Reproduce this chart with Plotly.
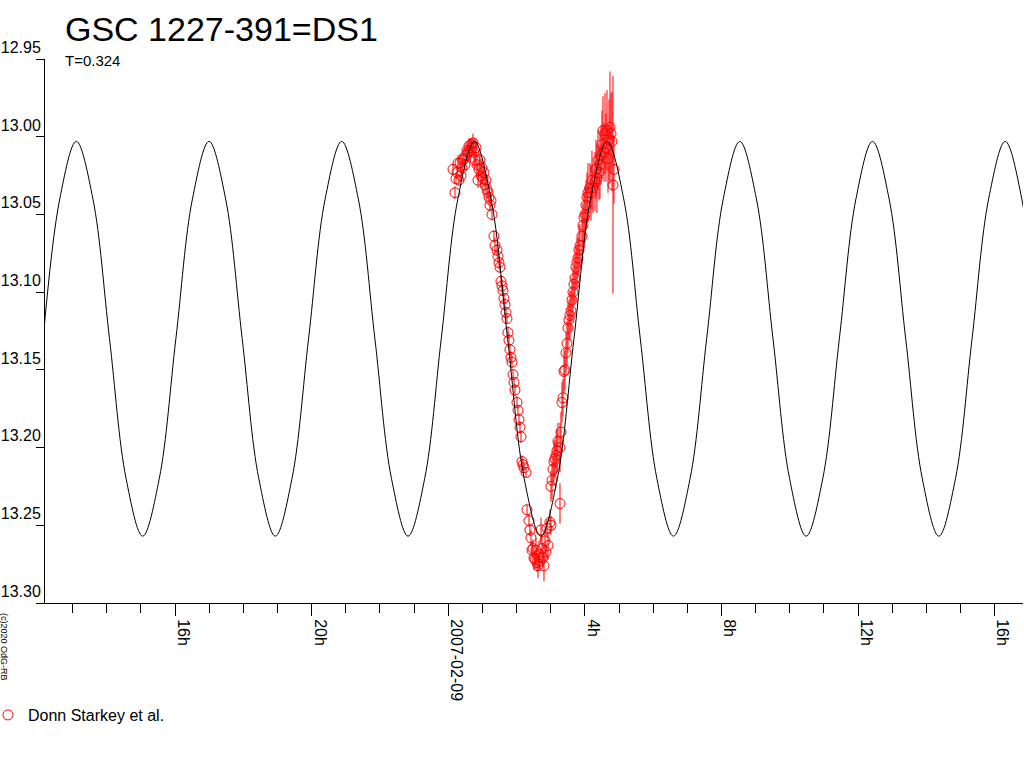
import pandas as pd
import plotly.graph_objects as go

# ---------------- data (hours from 2007-02-09 00:00 UT, magnitudes) ----------------
BASE = pd.Timestamp("2007-02-09 00:00:00")

curve_hours = [
    -11.864, -11.378, -10.893, -10.407, -9.921, -9.435, -8.950, -8.464,
    -7.978, -7.492, -7.007, -6.521, -6.035, -5.549, -5.064, -4.578,
    -4.092, -3.606, -3.121, -2.635, -2.149, -1.663, -1.178, -0.692,
    -0.206, 0.280, 0.765, 1.251, 1.737, 2.223, 2.708, 3.194,
    3.680, 4.166, 4.651, 5.137, 5.623, 6.109, 6.594, 7.080,
    7.566, 8.052, 8.537, 9.023, 9.509, 9.995, 10.480, 10.966,
    11.452, 11.938, 12.423, 12.909, 13.395, 13.881, 14.366, 14.852,
    15.338, 15.824, 16.309, 16.795, 17.281,
]
curve_mag = [
    13.130, 13.040, 13.003, 13.040, 13.130, 13.220, 13.257, 13.220,
    13.130, 13.040, 13.003, 13.040, 13.130, 13.220, 13.257, 13.220,
    13.130, 13.040, 13.003, 13.040, 13.130, 13.220, 13.257, 13.220,
    13.130, 13.040, 13.003, 13.040, 13.130, 13.220, 13.257, 13.220,
    13.130, 13.040, 13.003, 13.040, 13.130, 13.220, 13.257, 13.220,
    13.130, 13.040, 13.003, 13.040, 13.130, 13.220, 13.257, 13.220,
    13.130, 13.040, 13.003, 13.040, 13.130, 13.220, 13.257, 13.220,
    13.130, 13.040, 13.003, 13.040, 13.130,
]

obs_hours = [
    0.138, 0.196, 0.225, 0.255, 0.284, 0.313, 0.343, 0.372, 0.401, 0.430,
    0.460, 0.489, 0.518, 0.548, 0.577, 0.606, 0.635, 0.665, 0.694, 0.723,
    0.753, 0.782, 0.811, 0.840, 0.870, 0.899, 0.928, 0.958, 0.987, 1.016,
    1.045, 1.075, 1.104, 1.133, 1.163, 1.192, 1.221, 1.250, 1.280, 1.338,
    1.368, 1.426, 1.455, 1.485, 1.514, 1.543, 1.573, 1.602, 1.631, 1.660,
    1.690, 1.719, 1.748, 1.777, 1.807, 1.836, 1.865, 1.895, 1.924, 1.953,
    2.012, 2.041, 2.070, 2.100, 2.129, 2.158, 2.187, 2.217, 2.275, 2.305,
    2.363, 2.392, 2.422, 2.451, 2.480, 2.510, 2.539, 2.568, 2.597, 2.627,
    2.656, 2.685, 2.715, 2.744, 2.773, 2.802, 2.832, 2.861, 2.890, 2.920,
    2.978, 3.007, 3.007, 3.037, 3.066, 3.095, 3.124, 3.154, 3.183, 3.212,
    3.271, 3.271, 3.300, 3.329, 3.359, 3.388, 3.417, 3.447, 3.476, 3.505,
    3.534, 3.564, 3.593, 3.622, 3.652, 3.681, 3.710, 3.739, 3.769, 3.798,
    3.827, 3.857, 3.915, 3.944, 3.974, 4.003, 4.032, 4.062, 4.091, 4.149,
    4.179, 4.208, 4.237, 4.296, 4.325, 4.354, 4.384, 4.413, 4.442, 4.472,
    4.501, 4.530, 4.559, 4.589, 4.618, 4.647, 4.677, 4.706, 4.735, 4.764,
    4.794, 4.823, 4.852,
]
obs_mag = [
    13.021, 13.036, 13.027, 13.023, 13.017, 13.028, 13.017, 13.025, 13.020, 13.015,
    13.014, 13.018, 13.012, 13.009, 13.010, 13.006, 13.009, 13.005, 13.007, 13.004,
    13.010, 13.015, 13.007, 13.018, 13.028, 13.021, 13.015, 13.025, 13.020, 13.027,
    13.023, 13.031, 13.028, 13.034, 13.036, 13.039, 13.044, 13.041, 13.050, 13.064,
    13.070, 13.073, 13.077, 13.081, 13.084, 13.093, 13.096, 13.099, 13.104, 13.108,
    13.113, 13.117, 13.126, 13.131, 13.137, 13.142, 13.145, 13.153, 13.158, 13.163,
    13.171, 13.176, 13.182, 13.187, 13.193, 13.209, 13.211, 13.213, 13.216, 13.240,
    13.247, 13.253, 13.258, 13.266, 13.265, 13.271, 13.272, 13.266, 13.274, 13.276,
    13.269, 13.273, 13.253, 13.265, 13.271, 13.276, 13.260, 13.267, 13.252, 13.263,
    13.248, 13.250, 13.225, 13.221, 13.214, 13.209, 13.207, 13.205, 13.202, 13.196,
    13.200, 13.236, 13.190, 13.171, 13.168, 13.151, 13.150, 13.139, 13.133, 13.123,
    13.118, 13.115, 13.112, 13.105, 13.100, 13.095, 13.091, 13.084, 13.081, 13.078,
    13.073, 13.070, 13.064, 13.057, 13.052, 13.050, 13.044, 13.039, 13.036, 13.033,
    13.036, 13.028, 13.033, 13.029, 13.021, 13.027, 13.015, 13.023, 13.018, 13.012,
    13.005, 12.996, 13.010, 12.998, 13.007, 12.996, 13.014, 13.002, 12.994, 12.998,
    13.003, 13.031, 13.021,
]
obs_err = [
    0.003, 0.004, 0.003, 0.004, 0.005, 0.003, 0.006, 0.004, 0.005, 0.004,
    0.006, 0.004, 0.005, 0.004, 0.006, 0.005, 0.008, 0.004, 0.005, 0.006,
    0.009, 0.005, 0.006, 0.008, 0.005, 0.006, 0.005, 0.008, 0.006, 0.005,
    0.005, 0.006, 0.004, 0.005, 0.004, 0.004, 0.004, 0.005, 0.004, 0.004,
    0.005, 0.004, 0.004, 0.004, 0.003, 0.004, 0.004, 0.003, 0.003, 0.004,
    0.003, 0.003, 0.004, 0.005, 0.004, 0.004, 0.004, 0.003, 0.003, 0.004,
    0.004, 0.003, 0.004, 0.004, 0.004, 0.004, 0.004, 0.003, 0.003, 0.003,
    0.004, 0.004, 0.005, 0.006, 0.006, 0.008, 0.006, 0.008, 0.006, 0.008,
    0.009, 0.006, 0.008, 0.009, 0.006, 0.010, 0.008, 0.006, 0.006, 0.009,
    0.008, 0.006, 0.010, 0.012, 0.010, 0.013, 0.012, 0.013, 0.014, 0.012,
    0.016, 0.013, 0.013, 0.013, 0.012, 0.014, 0.013, 0.013, 0.014, 0.016,
    0.013, 0.016, 0.013, 0.014, 0.016, 0.013, 0.016, 0.014, 0.016, 0.013,
    0.016, 0.014, 0.016, 0.014, 0.016, 0.018, 0.016, 0.016, 0.019, 0.016,
    0.018, 0.019, 0.016, 0.019, 0.019, 0.022, 0.019, 0.018, 0.022, 0.019,
    0.022, 0.022, 0.019, 0.026, 0.022, 0.026, 0.022, 0.026, 0.036, 0.026,
    0.032, 0.070, 0.022,
]

x_tick_hours = [-8, -4, 0, 4, 8, 12, 16]
x_tick_text = ["16h", "20h", "2007-02-09", "4h", "8h", "12h", "16h"]
y_ticks = [12.95, 13.00, 13.05, 13.10, 13.15, 13.20, 13.25, 13.30]
x_range_hours = [-11.81, 16.83]
y_range = [13.30, 12.95]


def to_time(hours):
    return BASE + pd.to_timedelta(pd.Series(hours, dtype=float), unit="h")


FONT = "Liberation Sans, Arial, sans-serif"

fig = go.Figure()
fig.add_trace(go.Scatter(
    x=to_time(obs_hours), y=obs_mag, mode="markers", name="Donn Starkey et al.",
    marker=dict(symbol="circle-open", size=10, color="#ff0000", line=dict(width=1, color="#ff0000")),
    error_y=dict(type="data", array=obs_err, visible=True, color="#ff0000", thickness=1, width=0),
))
fig.add_trace(go.Scatter(
    x=to_time(curve_hours), y=curve_mag, mode="lines", showlegend=False,
    line=dict(color="black", width=1, shape="spline", smoothing=1.0), hoverinfo="skip",
))

fig.update_layout(
    width=1024, height=768,
    margin=dict(l=45, r=1, t=59, b=165, autoexpand=False),
    paper_bgcolor="white", plot_bgcolor="white",
    font=dict(family=FONT, color="black", size=16),
    title=dict(text="GSC 1227-391=DS1", x=65 / 1024, xref="container", xanchor="left",
               y=1 - 29 / 768, yref="container", yanchor="middle",
               font=dict(family=FONT, size=34, color="black")),
    showlegend=True,
    legend=dict(x=(-12 - 45) / 978, y=(603 - 715) / 544, xref="paper", yref="paper",
                xanchor="left", yanchor="middle", bgcolor="rgba(0,0,0,0)",
                borderwidth=0, itemwidth=30, font=dict(family=FONT, size=16, color="black")),
    xaxis=dict(
        type="date", automargin=False,
        range=list(to_time(x_range_hours)),
        tickvals=list(to_time(x_tick_hours)), ticktext=x_tick_text,
        tickangle=90, ticks="outside", ticklen=12, tickwidth=1, tickcolor="black",
        showline=True, linecolor="black", linewidth=1, showgrid=False, zeroline=False,
        tickfont=dict(family=FONT, size=16, color="black"),
        ticklabelshift=8, ticklabelstandoff=0,
        minor=dict(dtick=3600000, ticks="outside", ticklen=9, tickwidth=1,
                   tickcolor="black", showgrid=False),
    ),
    yaxis=dict(
        range=y_range, tickvals=y_ticks, tickformat=".2f", automargin=False,
        ticks="outside", ticklen=8, tickwidth=1, tickcolor="black",
        showline=True, linecolor="black", linewidth=1, showgrid=False, zeroline=False,
        ticklabelposition="outside top",
        tickfont=dict(family=FONT, size=16, color="black"),
    ),
    annotations=[
        dict(text="T=0.324", xref="paper", yref="paper", x=(63 - 45) / 978, y=(603 - 61) / 544,
             xanchor="left", yanchor="middle", showarrow=False,
             font=dict(family=FONT, size=15, color="black")),
        dict(text="(c)2020 OdG-RB", xref="paper", yref="paper", x=(4 - 45) / 978,
             y=(603 - 647) / 544, xanchor="center", yanchor="middle", textangle=90,
             showarrow=False, font=dict(family=FONT, size=9, color="black")),
    ],
)

fig.write_html("out.html", config={"displayModeBar": False},
               post_script="document.body.style.margin='0';")
